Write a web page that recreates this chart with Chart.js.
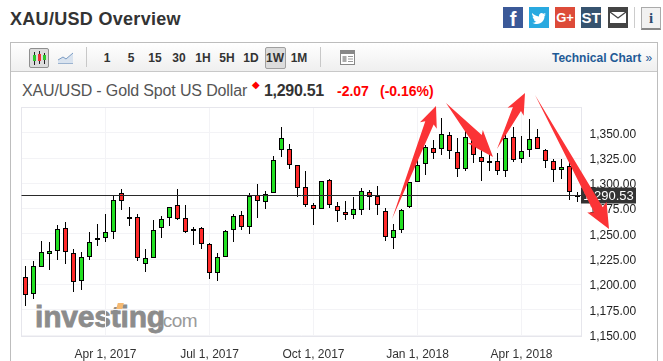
<!DOCTYPE html>
<html><head><meta charset="utf-8"><title>XAU/USD Overview</title>
<script src="https://cdn.jsdelivr.net/npm/chart.js@4"></script>
<style>
html,body{margin:0;padding:0;background:#fff;overflow:hidden}
body{width:663px;height:361px;position:relative;font-family:"Liberation Sans",Arial,sans-serif}
.a{position:absolute;white-space:nowrap}
#wrap{position:absolute;left:0;top:0;width:663px;height:361px}
.tf{top:50px;font:bold 12px/16px "Liberation Sans",Arial,sans-serif;color:#333;width:24px;text-align:center}
.soc{top:7px;width:20px;height:21px;color:#fff;text-align:center;font:bold 15px/21px "Liberation Sans",Arial,sans-serif}
</style></head><body>
<div class="a" style="left:10px;top:42px;height:319px;border:1px solid #bdbdbd;border-bottom:0;box-sizing:border-box;width:648px"></div>
<div class="a" style="left:11px;top:43px;width:646px;height:28px;background:linear-gradient(#fff,#efefef);border-bottom:1px solid #c8c8c8"></div>
<div class="a" style="left:10px;top:7px;font:bold 18px/24px 'Liberation Sans',Arial,sans-serif;color:#333;letter-spacing:.3px">XAU/USD Overview</div>

<div class="a soc" style="left:503px;background:#3b5998;font:bold 20px/24px 'Liberation Sans'">f</div>
<div class="a soc" style="left:529px;background:#29a9e0"><svg width="20" height="21" viewBox="0 0 20 21"><path fill="#fff" d="M3 6c2 2 4 3.2 7 3.4C9.6 6.6 12.6 5 14.4 6.8l2.2-.8-1.2 1.900 1.600-.4-1.500 1.600c.2 4-3 8-7.500 8-1.800 0-3.300-.5-4.600-1.300 1.500.1 3-.3 4-1.200-1.400-.1-2.300-.9-2.700-2.100h1.300C4.700 12 3.700 11 3.600 9.400l1.300.4C3.500 8.800 2.800 7.500 3 6z"/></svg></div>
<div class="a soc" style="left:555px;background:#dd4b39;font-size:13px">G+</div>
<div class="a soc" style="left:581px;background:#36536f;font-size:15px">ST</div>
<div class="a soc" style="left:608px;background:#444"><svg width="20" height="21" viewBox="0 0 20 21"><path fill="#fff" d="M2 5h16v11H2z"/><path fill="none" stroke="#444" stroke-width="1.300" d="M2 5l8 6 8-6"/></svg></div>
<div class="a" style="left:634px;top:7px;width:1px;height:21px;background:#ccc"></div>
<div class="a" style="left:641px;top:7px;width:18px;height:20px;border:1px solid #aaa;border-bottom:2px solid #888;background:#f1f1f1;color:#2c4a6e;text-align:center;font:bold 15px/20px 'Liberation Serif',serif">i</div>

<div class="a" style="left:29px;top:48px;width:18px;height:18px;background:#dcdcdc;border:1px solid #8f8f8f;border-radius:2px"><svg width="18" height="18" viewBox="0 0 18 18"><path stroke="#222" d="M4.500 3v13M9.500 2v13M14.500 4v11"/><rect x="3" y="6" width="3" height="6" fill="#2bc72b"/><rect x="8" y="5" width="3" height="7" fill="#e33"/><rect x="13" y="6" width="3" height="5" fill="#2bc72b"/></svg></div>
<svg class="a" style="left:57px;top:50px" width="17" height="15" viewBox="0 0 17 15"><path d="M1 10l5-3 3 2 7-6v10H1z" fill="#d9e3ef"/><path d="M1 10l5-3 3 2 7-6" fill="none" stroke="#7b9cc4"/><path d="M1 13.500h15" stroke="#9bb3d0"/></svg>
<div class="a" style="left:86px;top:47px;width:1px;height:20px;background:#c8c8c8"></div>
<div class="a tf" style="left:95px">1</div><div class="a tf" style="left:119px">5</div><div class="a tf" style="left:143px">15</div><div class="a tf" style="left:167px">30</div><div class="a tf" style="left:191px">1H</div><div class="a tf" style="left:215px">5H</div><div class="a tf" style="left:239px">1D</div>
<div class="a" style="left:265px;top:47px;width:19px;height:20px;background:#dcdcdc;border:1px solid #a0a0a0;border-radius:2px"></div>
<div class="a tf" style="left:263px">1W</div><div class="a tf" style="left:287px">1M</div>
<div class="a" style="left:320px;top:47px;width:1px;height:20px;background:#c8c8c8"></div>
<svg class="a" style="left:340px;top:50px" width="15" height="15" viewBox="0 0 15 15"><rect x=".5" y=".5" width="14" height="14" fill="#fff" stroke="#888"/><rect x="1" y="1" width="13" height="3" fill="#888"/><rect x="2.500" y="6" width="4" height="6" fill="#aaa"/><path d="M8 6.500h5M8 9h5M8 11.500h5" stroke="#999"/></svg>
<div class="a" style="left:552px;top:50px;font:bold 12px/16px 'Liberation Sans',Arial,sans-serif;color:#1f5a96">Technical Chart <span style="font-weight:normal;margin-left:1px">»</span></div>

<div class="a" style="left:22px;top:81px;font:16px/20px 'Liberation Sans',Arial,sans-serif;color:#555;letter-spacing:-.15px">XAU/USD - Gold Spot US Dollar</div>
<div class="a" style="left:252px;top:80px;font:10px/10px 'DejaVu Sans',sans-serif;color:#f00">&#9670;</div>
<div class="a" style="left:264px;top:81px;font:bold 16px/20px 'Liberation Sans',Arial,sans-serif;color:#333;letter-spacing:-.3px">1,290.51</div>
<div class="a" style="left:337px;top:81px;font:bold 14px/20px 'Liberation Sans',Arial,sans-serif;color:#f00">-2.07</div>
<div class="a" style="left:380px;top:81px;font:bold 14px/20px 'Liberation Sans',Arial,sans-serif;color:#f00">(-0.16%)</div>

<div class="a" style="left:35px;top:297px;font:bold 30px/40px 'Liberation Sans',Arial,sans-serif;color:#8c8c8c;letter-spacing:-.2px;-webkit-text-stroke:.8px #8c8c8c">investing</div>
<div class="a" style="left:158px;top:308px;font:19px/26px 'Liberation Sans',Arial,sans-serif;color:#9a9a9a;letter-spacing:-.5px">.com</div>
<div class="a" style="left:117px;top:303px;width:6px;height:6px;background:#f5b971;transform:skewX(-15deg)"></div>

<div id="wrap"><canvas id="c" width="663" height="361"></canvas></div>
<script>
const categories = ["2017-01-22","2017-01-29","2017-02-05","2017-02-12","2017-02-19","2017-02-26","2017-03-05","2017-03-12","2017-03-19","2017-03-26",
"2017-04-02","2017-04-09","2017-04-16","2017-04-23","2017-04-30","2017-05-07","2017-05-14","2017-05-21","2017-05-28","2017-06-04",
"2017-06-11","2017-06-18","2017-06-25","2017-07-02","2017-07-09","2017-07-16","2017-07-23","2017-07-30","2017-08-06","2017-08-13",
"2017-08-20","2017-08-27","2017-09-03","2017-09-10","2017-09-17","2017-09-24","2017-10-01","2017-10-08","2017-10-15","2017-10-22",
"2017-10-29","2017-11-05","2017-11-12","2017-11-19","2017-11-26","2017-12-03","2017-12-10","2017-12-17","2017-12-24","2017-12-31",
"2018-01-07","2018-01-14","2018-01-21","2018-01-28","2018-02-04","2018-02-11","2018-02-18","2018-02-25","2018-03-04","2018-03-11",
"2018-03-18","2018-03-25","2018-04-01","2018-04-08","2018-04-15","2018-04-22","2018-04-29","2018-05-06","2018-05-13","2018-05-20"];
const open = [1207.1,1190.3,1217.0,1229.8,1232.8,1255.5,1230.8,1203.1,1226.9,1246.3,
1245.6,1251.6,1290.1,1267.0,1266.4,1219.9,1225.9,1255.5,1265.4,1278.2,
1265.4,1252.6,1255.5,1239.7,1211.1,1226.9,1253.5,1268.4,1256.5,1288.1,
1281.2,1290.1,1332.6,1333.6,1317.8,1296.0,1278.2,1274.3,1303.0,1277.3,
1271.3,1268.4,1273.3,1291.1,1287.1,1272.3,1245.6,1253.5,1276.3,1301.0,
1318.8,1334.6,1333.6,1347.4,1330.6,1313.8,1349.4,1325.7,1321.7,1321.7,
1311.8,1345.4,1323.7,1332.6,1345.4,1332.6,1321.7,1312.8,1316.8,1288.4];
const close = [1189.3,1218.0,1231.8,1232.8,1254.5,1231.8,1202.1,1226.9,1241.7,1245.9,
1251.6,1283.2,1282.2,1266.4,1225.9,1225.9,1253.5,1264.4,1276.9,1264.4,
1251.6,1254.5,1239.7,1211.1,1226.9,1252.6,1267.4,1256.5,1287.1,1282.2,
1289.1,1322.7,1344.4,1317.8,1295.0,1278.2,1274.3,1302.0,1278.2,1272.3,
1268.4,1274.3,1292.1,1286.2,1278.2,1246.6,1253.5,1273.3,1301.0,1317.8,
1335.5,1329.6,1348.4,1331.6,1313.8,1345.4,1327.6,1320.7,1321.4,1311.8,
1344.4,1322.7,1331.6,1343.5,1333.6,1321.7,1312.8,1315.8,1291.1,1288.2];
const high = [1218.3,1223.2,1243.0,1242.0,1258.5,1261.8,1234.8,1231.8,1251.9,1259.8,
1269.7,1287.8,1294.4,1276.6,1269.7,1235.1,1263.4,1267.4,1276.9,1294.4,
1278.2,1256.5,1256.5,1240.7,1230.8,1253.5,1269.4,1272.3,1290.1,1299.0,
1292.4,1326.7,1355.3,1338.5,1317.8,1311.8,1280.2,1302.0,1303.9,1281.2,
1282.2,1286.2,1295.0,1293.1,1297.0,1275.3,1259.5,1274.3,1301.0,1323.0,
1337.5,1342.5,1364.2,1350.4,1344.4,1354.3,1352.7,1332.9,1329.6,1329.6,
1349.4,1355.3,1346.4,1363.2,1353.3,1333.6,1323.7,1323.7,1321.7,1291.1];
const low = [1179.1,1186.0,1217.0,1214.4,1224.2,1220.6,1192.9,1194.9,1224.6,1238.1,
1242.3,1245.3,1274.0,1258.1,1223.6,1212.7,1225.9,1246.3,1258.1,1263.4,
1250.6,1239.4,1235.4,1205.8,1203.8,1226.9,1242.4,1253.5,1250.3,1266.1,
1274.9,1290.1,1325.7,1314.5,1286.8,1276.3,1259.2,1274.3,1275.3,1262.1,
1264.1,1265.1,1269.0,1273.6,1269.0,1242.7,1235.4,1251.2,1275.3,1301.0,
1307.9,1323.7,1327.6,1323.7,1305.9,1312.5,1319.7,1302.0,1311.8,1308.5,
1305.9,1320.7,1319.7,1325.7,1333.6,1314.8,1301.0,1303.9,1283.9,1281.2];
const priceTicks = [1150,1175,1200,1225,1250,1275,1300,1325,1350];
const dateTickIndex = [10,23,36,49,62];
const dateTickLabels = ["Apr 1, 2017","Jul 1, 2017","Oct 1, 2017","Jan 1, 2018","Apr 1, 2018"];
const lastLineValue = 1288.2;
const lastLabel = "1,290.53";

const UP = "#22e022", DOWN = "#ff2a2a";
const overlay = {
  id:"overlay",
  beforeDraw(ch){
    // nudge the y-axis tick labels onto the reference's text line
    ch.scales.y.getLabelItems(ch.chartArea).forEach(it=>{it.textOffset=1.5;});
  },
  beforeDatasetsDraw(ch){
    const {ctx,chartArea:a}=ch;
    ctx.save();ctx.strokeStyle="#e6e6ec";ctx.lineWidth=1;
    ctx.strokeRect(a.left,a.top+.5,a.right-a.left,a.bottom-a.top);ctx.restore();
    // snap bar edges to whole pixels so the candles stay crisp
    ch.getDatasetMeta(0).data.forEach(el=>{
      const t=Math.round(Math.min(el.y,el.base)),b=Math.round(Math.max(el.y,el.base));
      el.y=t;el.base=Math.max(b,t+2);el.height=el.base-el.y;
    });
    ch.getDatasetMeta(1).data.forEach(el=>{el.y=Math.round(el.y);el.base=Math.round(el.base);});
  },
  afterDatasetsDraw(ch){
    const {ctx,chartArea:a,scales}=ch;
    const y=Math.round(scales.y.getPixelForValue(lastLineValue))+.5;
    ctx.save();
    ctx.strokeStyle="#2a2a2a";ctx.lineWidth=1;
    ctx.beginPath();ctx.moveTo(a.left,y);ctx.lineTo(a.right,y);ctx.stroke();
    ctx.fillStyle="#333";ctx.fillRect(581,y-8,55,16);
    ctx.fillStyle="#fff";ctx.font="13px 'Liberation Sans',Arial,sans-serif";
    ctx.textAlign="center";ctx.textBaseline="middle";ctx.fillText(lastLabel,608.5,y+.5);
    const arrows=[[392,219,436,106,18,9,4.500],[446,103,493,157,24,10,6],[497,149,525,93,18,9,4.500],[535,95,609,229,22,11,5]];
    ctx.fillStyle="#fb3336";
    for(const [x0,y0,x1,y1,hl,hw,nw] of arrows){
      const L=Math.hypot(x1-x0,y1-y0),ux=(x1-x0)/L,uy=(y1-y0)/L,nx=-uy,ny=ux;
      const bx=x1-ux*hl,by=y1-uy*hl;
      ctx.beginPath();ctx.moveTo(x0,y0);
      ctx.lineTo(bx+nx*nw,by+ny*nw);ctx.lineTo(bx-ux*3+nx*hw,by-uy*3+ny*hw);
      ctx.lineTo(x1,y1);
      ctx.lineTo(bx-ux*3-nx*hw,by-uy*3-ny*hw);ctx.lineTo(bx-nx*nw,by-ny*nw);
      ctx.closePath();ctx.fill();
    }
    ctx.restore();
  }
};
new Chart(document.getElementById("c"),{
  type:"bar",
  plugins:[overlay],
  data:{labels:categories,datasets:[
    {label:"Open/Close",order:0,grouped:false,data:open.map((o,i)=>[o,close[i]]),barThickness:5,borderWidth:1,borderColor:"#000",borderSkipped:false,inflateAmount:0,
     backgroundColor:open.map((o,i)=>close[i]>=o?UP:DOWN)},
    {label:"High/Low",order:1,grouped:false,data:low.map((l,i)=>[l,high[i]]),barThickness:1,backgroundColor:"#000",borderWidth:0,inflateAmount:0}
  ]},
  options:{
    responsive:false,animation:false,events:[],
    layout:{padding:{left:21.5,top:107,right:0,bottom:0}},
    plugins:{legend:{display:false},tooltip:{enabled:false}},
    scales:{
      x:{type:"category",offset:true,border:{display:false},
        grid:{color:"#f3f3f6",drawTicks:false,offset:false},
        afterBuildTicks(s){s.ticks=dateTickIndex.map(v=>({value:v}));},
        afterFit(s){s.height=25;},
        ticks:{autoSkip:false,maxRotation:0,padding:11,color:"#333",font:{family:"'Liberation Sans',Arial,sans-serif",size:12},
          callback:v=>dateTickLabels[dateTickIndex.indexOf(v)]}},
      y:{position:"right",min:1149.1,max:1375.4,border:{display:false},
        grid:{color:"#f3f3f6",drawTicks:false},
        afterBuildTicks(s){s.ticks=priceTicks.map(v=>({value:v}));},
        afterFit(s){s.width=81.5;},
        ticks:{autoSkip:false,padding:8,color:"#222",font:{family:"'Liberation Sans',Arial,sans-serif",size:12},
          callback:v=>v.toLocaleString("en-US",{minimumFractionDigits:2,maximumFractionDigits:2})}}
    }
  }
});
</script>
</body></html>
